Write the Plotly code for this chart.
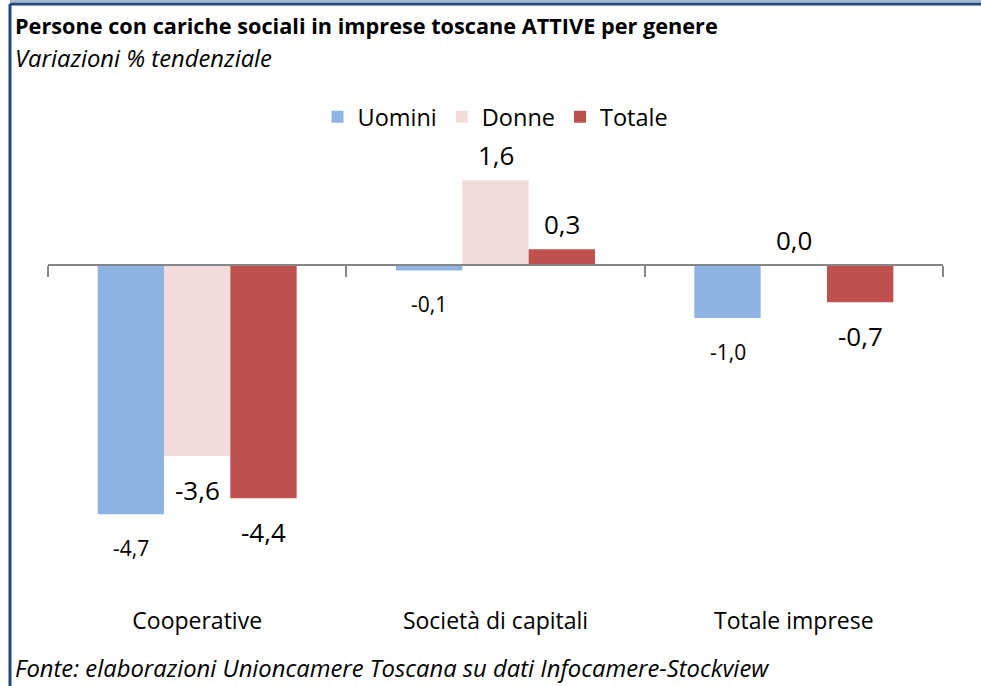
import plotly.graph_objects as go

# Data
categories = ['Cooperative', 'Società di capitali', 'Totale imprese']
series_names = ['Uomini', 'Donne', 'Totale']
uomini = [-4.7, -0.1, -1.0]
donne = [-3.6, 1.6, 0.0]
totale = [-4.4, 0.3, -0.7]

colors = ['#8EB4E3', '#F2DCDB', '#C0504D']
label_sizes = [21, 26, 26]
FONT = '"Open Sans", sans-serif'

W, H = 981, 686
M = dict(l=48, r=38, t=140, b=88)
Y_RANGE = [-6.28, 2.36]
BARGAP = 0.333

fig = go.Figure()
for name, vals, col in zip(series_names, [uomini, donne, totale], colors):
    fig.add_trace(go.Bar(x=categories, y=vals, name=name,
                         marker=dict(color=col, line=dict(width=0)),
                         hoverinfo='skip'))

# helper trace so the zero-line axis with boundary ticks is drawn
fig.add_trace(go.Scatter(x=categories, y=[0, 0, 0], xaxis='x2', yaxis='y',
                         mode='markers', marker=dict(opacity=0),
                         showlegend=False, hoverinfo='skip'))

# data labels
plot_w = W - M['l'] - M['r']
plot_h = H - M['t'] - M['b']
bar_px = plot_w / len(categories) * (1 - BARGAP) / 3
annotations = []
for i, (vals, size) in enumerate(zip([uomini, donne, totale], label_sizes)):
    for cat, v in zip(categories, vals):
        annotations.append(dict(
            x=cat, y=v, xref='x', yref='y', showarrow=False,
            text=f'{v:.1f}'.replace('.', ','),
            xshift=(i - 1) * bar_px,
            yshift=-34 if v < 0 else 25,
            yanchor='middle',
            font=dict(size=size, color='#000000', family=FONT)))


def px_note(text, x, y, size):
    # text placed by pixel position from the top-left of the figure
    return dict(text=text, xref='paper', yref='paper', showarrow=False,
                x=(x - M['l']) / plot_w, y=(H - y - M['b']) / plot_h,
                xanchor='left', yanchor='middle',
                font=dict(size=size, color='#000000', family=FONT))


annotations += [
    px_note('<b>Persone con cariche sociali in imprese toscane ATTIVE per genere</b>', 13, 25, 21.7),
    px_note('<i>Variazioni % tendenziale</i>', 13, 58, 23.8),
    px_note('<i>Fonte: elaborazioni Unioncamere Toscana su dati Infocamere-Stockview</i>', 13, 668, 23.8),
]

zero_pos = (0 - Y_RANGE[0]) / (Y_RANGE[1] - Y_RANGE[0])
frame_x = -(M['l'] - 10) / plot_w
frame_top = (H - 4 - M['b']) / plot_h
frame_top2 = (H - 1 - M['b']) / plot_h

fig.update_layout(
    width=W, height=H, margin=M,
    paper_bgcolor='white', plot_bgcolor='white',
    barmode='group', bargap=BARGAP, bargroupgap=0,
    separators=',.',
    font=dict(family=FONT, size=20, color='#000000'),
    showlegend=True,
    legend=dict(orientation='h', x=0.5, xanchor='center',
                y=(H - 117 - M['b']) / plot_h, yanchor='middle',
                font=dict(size=23.5, family=FONT), traceorder='normal',
                itemwidth=30, bgcolor='rgba(0,0,0,0)'),
    xaxis=dict(range=[-0.5, 2.5], showline=False, ticks='', showgrid=False,
               tickfont=dict(size=23, family=FONT), ticklabelstandoff=7,
               fixedrange=True),
    xaxis2=dict(matches='x', overlaying='x', anchor='free', position=zero_pos,
                showticklabels=False, showline=True, linecolor='#868686',
                linewidth=2, ticks='outside', tickson='boundaries', ticklen=11,
                tickcolor='#868686', tickwidth=1.5, showgrid=False),
    yaxis=dict(range=Y_RANGE, visible=False, showgrid=False, zeroline=False),
    annotations=annotations,
    shapes=[
        dict(type='line', xref='paper', yref='paper',
             x0=frame_x, x1=(W - M['l']) / plot_w, y0=frame_top2, y1=frame_top2,
             line=dict(color='#A6B9D1', width=2)),
        dict(type='line', xref='paper', yref='paper',
             x0=frame_x, x1=(W - M['l']) / plot_w, y0=frame_top, y1=frame_top,
             line=dict(color='#1F497D', width=3)),
        dict(type='line', xref='paper', yref='paper',
             x0=frame_x, x1=frame_x, y0=-M['b'] / plot_h, y1=frame_top,
             line=dict(color='#1F497D', width=3)),
    ],
)

fig.write_html('out.html', config={'displayModeBar': False},
               post_script="document.body.style.margin='0';")
